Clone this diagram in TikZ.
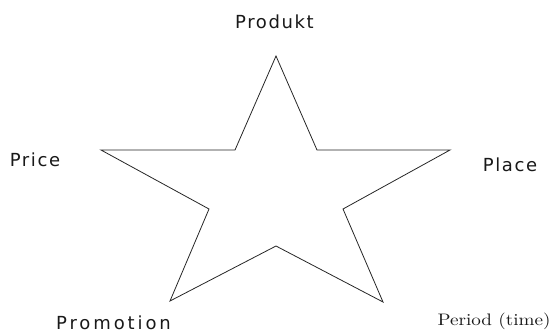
\documentclass[tikz,border=0pt]{standalone}
\usepackage{fontspec}
\newfontfamily\vsans[LetterSpace=9]{DejaVu Sans}
\newfontfamily\vsanswide[LetterSpace=16]{DejaVu Sans}
\begin{document}
\begin{tikzpicture}[x=1pt,y=-1pt,
  lbl/.style={anchor=base,inner sep=0pt,text depth=0pt,text=black!90,font=\vsans\fontsize{18}{20}\selectfont},
  serlbl/.style={anchor=base,inner sep=0pt,text depth=0pt,text=black!90},
  starline/.style={draw=black!85,line width=0.8pt,line join=miter}]
\useasboundingbox (0,0) rectangle (553,333);
\coordinate (A) at (276,56);
\coordinate (B) at (317,150);
\coordinate (C) at (450,150);
\coordinate (D) at (343,209);
\coordinate (E) at (383,302);
\coordinate (F) at (276,246);
\coordinate (G) at (170,301);
\coordinate (H) at (209,209);
\coordinate (I) at (101,150);
\coordinate (J) at (235,150);
\draw[starline] (A) -- (B) -- (C) -- (D) -- (E) -- (F) -- (G) -- (H) -- (I) -- (J) -- cycle;
\node[lbl] (produkt) at (274.5,28.3) {Produkt};
\node[lbl] (price) at (35,166) {Price};
\node[lbl] (place) at (510,171.7) {Place};
\node[lbl,font=\vsanswide\fontsize{18}{20}\selectfont] (promotion) at (113.5,329) {Promotion};
\node[serlbl] (period) at (494,325) {\resizebox{113pt}{12.5pt}{Period (time)}};
\end{tikzpicture}
\end{document}
